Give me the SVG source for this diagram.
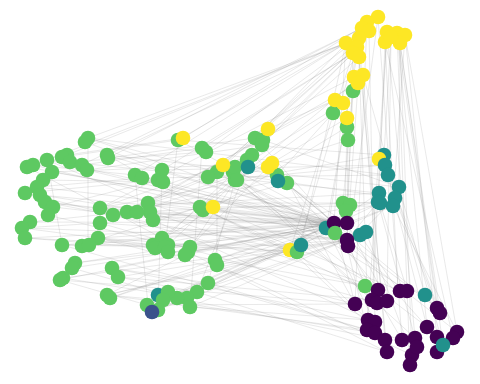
<svg xmlns="http://www.w3.org/2000/svg" width="480" height="384" viewBox="0 0 480 384">
<style>
.e{fill:none;stroke:#777;stroke-opacity:0.28;stroke-width:0.6}
.y{fill:#fde725}.g{fill:#5ec962}.t{fill:#21918c}.p{fill:#440154}.b{fill:#3b528b}
</style>
<rect width="480" height="384" fill="#fff"/>
<g id="connectors">
<path class="e" d="M334 223L47 160M334 223L27 167M334 223L88 138M334 223L107 155M334 223L135 175M334 223L162 170M334 223L148 203M334 223L127 212M334 223L100 208M334 223L113 215M334 223L98 238M334 223L62 245M334 223L82 245M334 223L75 263M334 223L112 268M334 223L60 280M334 223L148 305M334 223L155 248M334 223L188 252M334 223L215 260M334 223L208 283M334 223L197 292M334 223L163 300M334 223L200 207M334 223L217 172M334 223L178 140M334 223L252 155M334 223L277 175M334 223L25 238M334 223L40 195M347 240L45 202M347 240L22 228M347 240L100 223M347 240L118 277M347 240L107 295M347 240L177 298M347 240L152 312M347 240L190 307M347 240L168 252M347 240L235 180M347 240L262 145M347 240L217 265M347 240L53 207M347 240L63 278M347 240L33 165M328 228L87 170M328 228L142 178M328 228L150 212M328 228L137 212M328 228L72 268M328 228L110 298M328 228L187 298M328 228L165 247M328 228L208 177M328 228L237 180M328 228L287 183M347 223L52 172M347 223L37 187M347 223L153 220M347 223L158 310M347 223L185 255M347 223L247 160M347 223L203 210M347 223L30 222"/>
<path class="e" d="M346 43L178 140M346 43L88 138M346 43L107 155M353 53L202 148M353 53L263 140M357 47L217 172M346 43L47 160M359 57L235 167M353 53L162 170M362 28L82 165M367 22L255 138M346 43L135 175M359 38L206 152M353 53L252 155M357 47L208 177M363 75L237 180M354 77L100 208M358 83L148 203M335 100L127 212M343 103L233 172M346 43L62 157M362 28L108 158M378 17L183 138M369 31L223 165M335 100L268 129M347 118L272 163M353 91L277 175M333 113L200 207M347 127L153 245M348 140L113 215M346 43L301 245M353 53L290 250M357 47L297 252M362 28L326 228"/>
<path class="e" d="M378 17L402 340M387 32L415 338M397 33L437 308M405 35L457 332M400 43L443 345M391 37L387 301M369 31L375 322M359 57L368 320M363 75L385 340M362 28L347 240M385 42L398 290M359 38L378 288M405 35L437 337M397 33L427 327M400 43L412 355M387 32L367 330M346 43L334 223M353 53L347 240M357 47L329 222M367 22L355 304M385 42L379 193M391 37L384 155M400 43L399 187M405 35L393 206M378 17L348 246M387 32L372 300M397 33L410 365M353 91L347 210M354 77L343 203M363 75L425 295M400 43L440 313M385 42L453 338M359 57L387 352M348 140L347 223M347 127L345 212"/>
<path class="e" d="M355 304L148 305M368 320L190 307M367 330L107 295M372 300L118 277M378 288L215 260M387 352L197 292M355 304L60 280M375 333L163 300M385 340L177 298M368 320L112 268M377 303L100 223M387 301L200 207M398 290L203 210M402 340L208 283M412 355L217 265M375 322L153 220M355 304L98 238M378 288L150 212M372 300L237 180M367 330L62 245M387 352L188 252M365 286L113 215M415 338L233 172M427 327L235 180M407 290L217 172M437 308L277 175M355 304L288 183M368 320L297 252M378 288L301 245M385 340L290 250M355 304L334 223M365 286L347 240M378 288L328 228M367 330L347 246M387 301L347 223M402 340L334 223M375 322L326 228M398 290L360 235M412 355L366 232M437 308L347 240M457 332L348 246M427 327L334 223M437 308L395 198M457 332L393 206M443 345L399 187M415 338L378 202M427 327L388 175M407 290L380 203M440 313L385 165"/>
<path class="e" d="M379 193L100 208M378 202L127 212M384 155L235 180M380 203L148 203M393 206L200 207M399 187L263 140M385 165L162 170M388 175L88 138M379 193L47 160M395 198L217 172M378 202L153 245M380 203L215 260M393 206L208 283M385 165L277 175M384 155L178 140M399 187L107 155M388 175L142 178M379 193L334 223M378 202L347 240M380 203L328 228M393 206L347 223M395 198L348 246"/>
<path class="e" d="M27 167L162 238M47 160L148 203M88 138L217 172M107 155L200 207M62 157L178 140M33 165L135 175M82 165L202 148M43 180L163 182M25 193L158 180M40 195L150 212M45 202L137 212M22 228L153 245M25 238L155 248M30 222L127 212M48 215L168 245M62 245L190 247M98 238L215 260M75 263L168 252M60 280L147 305M72 268L177 298M63 278L187 298M112 268L208 283M118 277L197 292M107 295L163 300M100 208L252 155M113 215L247 160M100 223L235 167M87 170L262 145M108 158L255 138M52 172L223 165M67 155L183 138M70 162L206 152M53 207L158 180M37 187L142 178M85 142L162 170M88 138L88 245M47 160L62 245M135 175L148 305M162 170L158 310M178 140L165 247M202 148L190 307M217 172L217 265M235 180L208 283M252 155L197 292M263 140L185 255M148 203L297 252M200 207L290 250M213 207L301 245M153 220L288 183M127 212L278 181M100 208L277 175M137 212L268 167M162 238L248 167M168 245L237 180M190 247L272 163M155 248L252 155M110 298L215 260M107 295L185 255M82 245L200 207M22 228L100 223M25 193L113 215M301 245L62 245M297 252L98 238M290 250L107 295M301 245L148 305M297 252L25 238M290 250L45 202"/>
</g>
<g id="nodes">
<g id="g1" class="g"><circle cx="353" cy="91" r="7.3"/></g>
<g id="g2" class="g"><circle cx="333" cy="113" r="7.3"/></g>
<g id="g3" class="g"><circle cx="347" cy="127" r="7.3"/></g>
<g id="g4" class="g"><circle cx="348" cy="140" r="7.3"/></g>
<g id="g5" class="g"><circle cx="343" cy="203" r="7.3"/></g>
<g id="g6" class="g"><circle cx="350" cy="205" r="7.3"/></g>
<g id="g7" class="g"><circle cx="346" cy="211" r="7.3"/></g>
<g id="g8" class="g"><circle cx="365" cy="286" r="7.3"/></g>
<g id="g9" class="g"><circle cx="178" cy="140" r="7.3"/></g>
<g id="g10" class="g"><circle cx="202" cy="148" r="7.3"/></g>
<g id="g11" class="g"><circle cx="206" cy="152" r="7.3"/></g>
<g id="g12" class="g"><circle cx="217" cy="172" r="7.3"/></g>
<g id="g13" class="g"><circle cx="208" cy="177" r="7.3"/></g>
<g id="g14" class="g"><circle cx="233" cy="172" r="7.3"/></g>
<g id="g15" class="g"><circle cx="235" cy="180" r="7.3"/></g>
<g id="g16" class="g"><circle cx="135" cy="175" r="7.3"/></g>
<g id="g17" class="g"><circle cx="142" cy="178" r="7.3"/></g>
<g id="g18" class="g"><circle cx="162" cy="170" r="7.3"/></g>
<g id="g19" class="g"><circle cx="158" cy="180" r="7.3"/></g>
<g id="g20" class="g"><circle cx="163" cy="182" r="7.3"/></g>
<g id="g21" class="g"><circle cx="200" cy="207" r="7.3"/></g>
<g id="g22" class="g"><circle cx="203" cy="210" r="7.3"/></g>
<g id="g23" class="g"><circle cx="148" cy="203" r="7.3"/></g>
<g id="g24" class="g"><circle cx="150" cy="212" r="7.3"/></g>
<g id="g25" class="g"><circle cx="153" cy="220" r="7.3"/></g>
<g id="g26" class="g"><circle cx="127" cy="212" r="7.3"/></g>
<g id="g27" class="g"><circle cx="137" cy="212" r="7.3"/></g>
<g id="g28" class="g"><circle cx="162" cy="238" r="7.3"/></g>
<g id="g29" class="g"><circle cx="153" cy="245" r="7.3"/></g>
<g id="g30" class="g"><circle cx="168" cy="245" r="7.3"/></g>
<g id="g31" class="g"><circle cx="190" cy="247" r="7.3"/></g>
<g id="g32" class="g"><circle cx="255" cy="138" r="7.3"/></g>
<g id="g33" class="g"><circle cx="263" cy="140" r="7.3"/></g>
<g id="g34" class="g"><circle cx="262" cy="145" r="7.3"/></g>
<g id="g35" class="g"><circle cx="252" cy="155" r="7.3"/></g>
<g id="g36" class="g"><circle cx="247" cy="160" r="7.3"/></g>
<g id="g37" class="g"><circle cx="235" cy="167" r="7.3"/></g>
<g id="g38" class="g"><circle cx="237" cy="180" r="7.3"/></g>
<g id="g39" class="g"><circle cx="277" cy="175" r="7.3"/></g>
<g id="g40" class="g"><circle cx="287" cy="183" r="7.3"/></g>
<g id="g42" class="g"><circle cx="88" cy="138" r="7.3"/></g>
<g id="g43" class="g"><circle cx="85" cy="142" r="7.3"/></g>
<g id="g44" class="g"><circle cx="107" cy="155" r="7.3"/></g>
<g id="g45" class="g"><circle cx="108" cy="158" r="7.3"/></g>
<g id="g46" class="g"><circle cx="67" cy="155" r="7.3"/></g>
<g id="g47" class="g"><circle cx="62" cy="157" r="7.3"/></g>
<g id="g48" class="g"><circle cx="70" cy="162" r="7.3"/></g>
<g id="g49" class="g"><circle cx="47" cy="160" r="7.3"/></g>
<g id="g50" class="g"><circle cx="27" cy="167" r="7.3"/></g>
<g id="g51" class="g"><circle cx="33" cy="165" r="7.3"/></g>
<g id="g52" class="g"><circle cx="82" cy="165" r="7.3"/></g>
<g id="g53" class="g"><circle cx="87" cy="170" r="7.3"/></g>
<g id="g54" class="g"><circle cx="52" cy="172" r="7.3"/></g>
<g id="g55" class="g"><circle cx="43" cy="180" r="7.3"/></g>
<g id="g56" class="g"><circle cx="37" cy="187" r="7.3"/></g>
<g id="g57" class="g"><circle cx="25" cy="193" r="7.3"/></g>
<g id="g58" class="g"><circle cx="40" cy="195" r="7.3"/></g>
<g id="g59" class="g"><circle cx="45" cy="202" r="7.3"/></g>
<g id="g60" class="g"><circle cx="53" cy="207" r="7.3"/></g>
<g id="g61" class="g"><circle cx="48" cy="215" r="7.3"/></g>
<g id="g62" class="g"><circle cx="30" cy="222" r="7.3"/></g>
<g id="g63" class="g"><circle cx="22" cy="228" r="7.3"/></g>
<g id="g64" class="g"><circle cx="25" cy="238" r="7.3"/></g>
<g id="g65" class="g"><circle cx="100" cy="208" r="7.3"/></g>
<g id="g66" class="g"><circle cx="100" cy="223" r="7.3"/></g>
<g id="g67" class="g"><circle cx="113" cy="215" r="7.3"/></g>
<g id="g68" class="g"><circle cx="98" cy="238" r="7.3"/></g>
<g id="g69" class="g"><circle cx="62" cy="245" r="7.3"/></g>
<g id="g70" class="g"><circle cx="82" cy="246" r="7.3"/></g>
<g id="g71" class="g"><circle cx="89" cy="245" r="7.3"/></g>
<g id="g72" class="g"><circle cx="75" cy="263" r="7.3"/></g>
<g id="g73" class="g"><circle cx="72" cy="268" r="7.3"/></g>
<g id="g74" class="g"><circle cx="63" cy="278" r="7.3"/></g>
<g id="g75" class="g"><circle cx="60" cy="280" r="7.3"/></g>
<g id="g76" class="g"><circle cx="112" cy="268" r="7.3"/></g>
<g id="g77" class="g"><circle cx="118" cy="277" r="7.3"/></g>
<g id="g78" class="g"><circle cx="107" cy="295" r="7.3"/></g>
<g id="g79" class="g"><circle cx="110" cy="298" r="7.3"/></g>
<g id="g80" class="g"><circle cx="155" cy="248" r="7.3"/></g>
<g id="g81" class="g"><circle cx="165" cy="247" r="7.3"/></g>
<g id="g82" class="g"><circle cx="168" cy="252" r="7.3"/></g>
<g id="g83" class="g"><circle cx="188" cy="252" r="7.3"/></g>
<g id="g84" class="g"><circle cx="185" cy="255" r="7.3"/></g>
<g id="g85" class="g"><circle cx="215" cy="260" r="7.3"/></g>
<g id="g86" class="g"><circle cx="217" cy="265" r="7.3"/></g>
<g id="g87" class="g"><circle cx="208" cy="283" r="7.3"/></g>
<g id="t19" class="t"><circle cx="158" cy="295" r="7.3"/></g>
<g id="g88" class="g"><circle cx="197" cy="292" r="7.3"/></g>
<g id="g89" class="g"><circle cx="187" cy="298" r="7.3"/></g>
<g id="g90" class="g"><circle cx="177" cy="298" r="7.3"/></g>
<g id="g91" class="g"><circle cx="190" cy="307" r="7.3"/></g>
<g id="g92" class="g"><circle cx="168" cy="292" r="7.3"/></g>
<g id="g93" class="g"><circle cx="163" cy="300" r="7.3"/></g>
<g id="g94" class="g"><circle cx="158" cy="310" r="7.3"/></g>
<g id="g95" class="g"><circle cx="147" cy="305" r="7.3"/></g>
<g id="b1" class="b"><circle cx="152" cy="312" r="7.3"/></g>
<g id="t1" class="t"><circle cx="384" cy="155" r="7.3"/></g>
<g id="y22" class="y"><circle cx="379" cy="159" r="7.3"/></g>
<g id="t2" class="t"><circle cx="385" cy="165" r="7.3"/></g>
<g id="t3" class="t"><circle cx="388" cy="175" r="7.3"/></g>
<g id="t4" class="t"><circle cx="399" cy="187" r="7.3"/></g>
<g id="t5" class="t"><circle cx="379" cy="193" r="7.3"/></g>
<g id="t6" class="t"><circle cx="378" cy="202" r="7.3"/></g>
<g id="t7" class="t"><circle cx="395" cy="198" r="7.3"/></g>
<g id="t8" class="t"><circle cx="393" cy="206" r="7.3"/></g>
<g id="t9" class="t"><circle cx="380" cy="203" r="7.3"/></g>
<g id="t10" class="t"><circle cx="326" cy="228" r="7.3"/></g>
<g id="t11" class="t"><circle cx="360" cy="235" r="7.3"/></g>
<g id="t12" class="t"><circle cx="366" cy="232" r="7.3"/></g>
<g id="t13" class="t"><circle cx="248" cy="167" r="7.3"/></g>
<g id="t14" class="t"><circle cx="278" cy="181" r="7.3"/></g>
<g id="y1" class="y"><circle cx="378" cy="17" r="7.3"/></g>
<g id="y2" class="y"><circle cx="367" cy="22" r="7.3"/></g>
<g id="y3" class="y"><circle cx="362" cy="28" r="7.3"/></g>
<g id="y4" class="y"><circle cx="369" cy="31" r="7.3"/></g>
<g id="y5" class="y"><circle cx="346" cy="43" r="7.3"/></g>
<g id="y6" class="y"><circle cx="359" cy="38" r="7.3"/></g>
<g id="y7" class="y"><circle cx="357" cy="47" r="7.3"/></g>
<g id="y8" class="y"><circle cx="353" cy="53" r="7.3"/></g>
<g id="y9" class="y"><circle cx="359" cy="57" r="7.3"/></g>
<g id="y10" class="y"><circle cx="387" cy="32" r="7.3"/></g>
<g id="y11" class="y"><circle cx="397" cy="33" r="7.3"/></g>
<g id="y12" class="y"><circle cx="405" cy="35" r="7.3"/></g>
<g id="y13" class="y"><circle cx="385" cy="42" r="7.3"/></g>
<g id="y14" class="y"><circle cx="400" cy="43" r="7.3"/></g>
<g id="y15" class="y"><circle cx="391" cy="37" r="7.3"/></g>
<g id="y16" class="y"><circle cx="363" cy="75" r="7.3"/></g>
<g id="y17" class="y"><circle cx="354" cy="77" r="7.3"/></g>
<g id="y18" class="y"><circle cx="358" cy="83" r="7.3"/></g>
<g id="y19" class="y"><circle cx="335" cy="100" r="7.3"/></g>
<g id="y20" class="y"><circle cx="343" cy="103" r="7.3"/></g>
<g id="y21" class="y"><circle cx="347" cy="118" r="7.3"/></g>
<g id="y23" class="y"><circle cx="183" cy="138" r="7.3"/></g>
<g id="y24" class="y"><circle cx="223" cy="165" r="7.3"/></g>
<g id="y25" class="y"><circle cx="213" cy="207" r="7.3"/></g>
<g id="y26" class="y"><circle cx="268" cy="129" r="7.3"/></g>
<g id="y27" class="y"><circle cx="272" cy="163" r="7.3"/></g>
<g id="y28" class="y"><circle cx="268" cy="167" r="7.3"/></g>
<g id="y29" class="y"><circle cx="290" cy="250" r="7.3"/></g>
<g id="g96" class="g"><circle cx="297" cy="252" r="7.3"/></g>
<g id="t16" class="t"><circle cx="301" cy="245" r="7.3"/></g>
<g id="p1" class="p"><circle cx="334" cy="223" r="7.3"/></g>
<g id="p2" class="p"><circle cx="347" cy="223" r="7.3"/></g>
<g id="g97" class="g"><circle cx="335" cy="233" r="7.3"/></g>
<g id="p3" class="p"><circle cx="347" cy="240" r="7.3"/></g>
<g id="p4" class="p"><circle cx="348" cy="246" r="7.3"/></g>
<g id="p5" class="p"><circle cx="378" cy="290" r="7.3"/></g>
<g id="p6" class="p"><circle cx="400" cy="291" r="7.3"/></g>
<g id="p7" class="p"><circle cx="407" cy="291" r="7.3"/></g>
<g id="p8" class="p"><circle cx="355" cy="304" r="7.3"/></g>
<g id="p9" class="p"><circle cx="372" cy="300" r="7.3"/></g>
<g id="p10" class="p"><circle cx="377" cy="303" r="7.3"/></g>
<g id="p11" class="p"><circle cx="387" cy="301" r="7.3"/></g>
<g id="p12" class="p"><circle cx="437" cy="308" r="7.3"/></g>
<g id="p13" class="p"><circle cx="440" cy="313" r="7.3"/></g>
<g id="p14" class="p"><circle cx="368" cy="320" r="7.3"/></g>
<g id="p15" class="p"><circle cx="375" cy="322" r="7.3"/></g>
<g id="p16" class="p"><circle cx="367" cy="330" r="7.3"/></g>
<g id="p17" class="p"><circle cx="375" cy="333" r="7.3"/></g>
<g id="p18" class="p"><circle cx="385" cy="340" r="7.3"/></g>
<g id="p19" class="p"><circle cx="402" cy="340" r="7.3"/></g>
<g id="p20" class="p"><circle cx="415" cy="338" r="7.3"/></g>
<g id="p21" class="p"><circle cx="427" cy="327" r="7.3"/></g>
<g id="p22" class="p"><circle cx="437" cy="337" r="7.3"/></g>
<g id="p23" class="p"><circle cx="457" cy="332" r="7.3"/></g>
<g id="p24" class="p"><circle cx="453" cy="338" r="7.3"/></g>
<g id="p25" class="p"><circle cx="387" cy="352" r="7.3"/></g>
<g id="p26" class="p"><circle cx="412" cy="355" r="7.3"/></g>
<g id="p27" class="p"><circle cx="410" cy="365" r="7.3"/></g>
<g id="p28" class="p"><circle cx="417" cy="347" r="7.3"/></g>
<g id="p29" class="p"><circle cx="437" cy="352" r="7.3"/></g>
<g id="t17" class="t"><circle cx="425" cy="295" r="7.3"/></g>
<g id="t18" class="t"><circle cx="443" cy="345" r="7.3"/></g>
</g>
</svg>
